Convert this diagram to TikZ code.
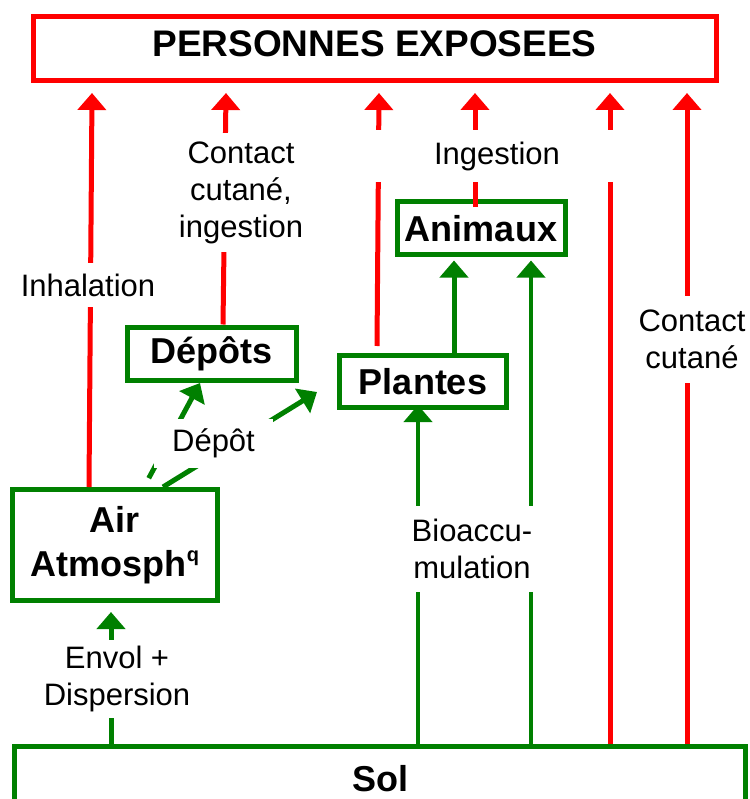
\documentclass[tikz,border=0pt]{standalone}
\usepackage{fontspec}
\setmainfont{Liberation Sans}
\usetikzlibrary{arrows.meta,calc}
\definecolor{gr}{RGB}{0,128,0}
\definecolor{rd}{RGB}{255,0,0}
\begin{document}
\begin{tikzpicture}[x=1pt,y=-1pt,
  gbox/.style={draw=gr,line width=5pt,fill=white,inner sep=0pt,align=center,
    font=\fontsize{36}{44}\selectfont\bfseries},
  rbox/.style={draw=rd,line width=5pt,fill=white,inner sep=0pt,align=center,
    font=\fontsize{37}{44}\selectfont\bfseries},
  lab/.style={fill=white,inner sep=0pt,align=center,
    font=\fontsize{31}{37}\selectfont},
  rarr/.style={draw=rd,line width=5pt,-{Triangle[width=28pt,length=17pt]}},
  garr/.style={draw=gr,line width=5pt,-{Triangle[width=28pt,length=17pt]}}]
\useasboundingbox (0,0) rectangle (749,799);
\clip (0,0) rectangle (749,799);

% boxes
\node[rbox,minimum width=683pt,minimum height=64.5pt,text depth=10pt] (top) at (374.5,48.75) {PERSONNES EXPOSEES};
\node[gbox,minimum width=169pt,minimum height=53pt] (dep) at (211.5,353.5) {Dépôts};
\node[gbox,minimum width=167pt,minimum height=52pt] (pla) at (423,381.5) {Plantes};
\node[gbox,minimum width=168pt,minimum height=53pt] (ani) at (481,228.5) {Animaux};
\node[gbox,minimum width=205pt,minimum height=111pt] (air) at (115,545) {Air\\Atmosph\raisebox{14.5pt}{\fontsize{20}{20}\selectfont q}};
\node[gbox,minimum width=730.5pt,minimum height=65pt] (sol) at (380,779) {Sol};

% red arrows to exposed persons
\draw[rarr] ($(air.north)+(-26,0)$) -- ($(top.south)+(-282.5,9.5)$);
\draw[rarr] ($(dep.north)+(11.5,0)$) -- ($(top.south)+(-148.5,9.5)$);
\draw[rarr] ($(pla.north)+(-46,-7)$) -- ($(top.south)+(4.5,9.5)$);
\draw[rarr] ($(ani.north)+(-6,7.5)$) -- ($(top.south)+(100.5,9.5)$);
\draw[rarr] ($(sol.north)+(230,0)$) -- ($(top.south)+(235.5,9.5)$);
\draw[rarr] ($(sol.north)+(307,0)$) -- ($(top.south)+(312.5,9.5)$);

% green transfers
\draw[garr] ($(sol.north)+(-269,0)$) -- ($(air.south)+(-4,9)$);
\draw[garr,line width=4pt] ($(sol.north)+(38,0)$) -- ($(pla.south)+(-5,-5)$);
\draw[garr,line width=4pt] ($(sol.north)+(151,0)$) -- ($(ani.south)+(50,3)$);
\draw[garr] ($(pla.north)+(31,0)$) -- ($(ani.south)+(-27,3)$);
\draw[garr,shorten <=10pt] ($(air.north)+(29,0)$) -- ($(dep.south)+(-11.5,0.5)$);
\draw[garr] ($(air.north)+(48,0)$) -- ($(pla.west)+(-20,10.5)$);

% labels
\node[lab,minimum width=135pt,minimum height=44pt] (l1) at (88,285) {Inhalation};
\node[lab,minimum height=119pt] (l2) at (241,192.5) {Contact\\cutané,\\ingestion};
\node[lab,minimum width=246pt,minimum height=52pt] (l3) at (497,156) {Ingestion};
\node[lab,minimum width=110pt,minimum height=87pt] (l4) at (692,339) {Contact\\cutané};
\node[lab,minimum width=119pt,minimum height=49pt] (l5) at (213.5,443.5) {Dépôt};
\node[lab,minimum width=128pt,minimum height=86pt] (l6) at (472,549) {Bioaccu-\\mulation};
\node[lab,minimum height=78pt] (l7) at (117,679) {Envol +\\Dispersion};
\end{tikzpicture}
\end{document}
